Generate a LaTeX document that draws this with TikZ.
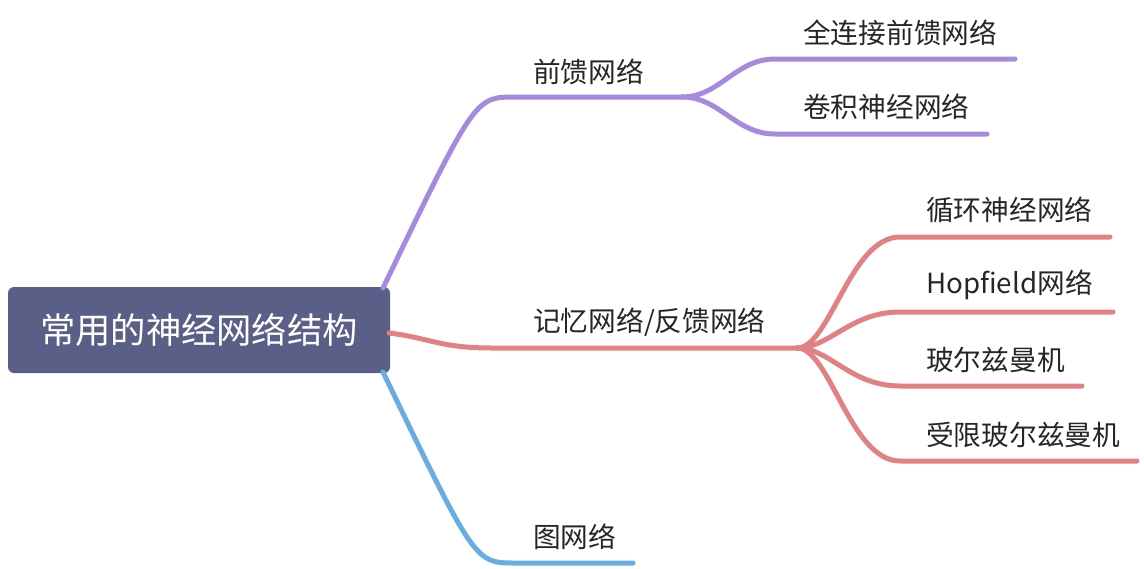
\documentclass[tikz,border=0pt]{standalone}
\usepackage{fontspec}
\setmainfont{Noto Sans CJK SC}
\definecolor{rootc}{HTML}{5A5F87}
\definecolor{purp}{HTML}{A58AE0}
\definecolor{redc}{HTML}{E28183}
\definecolor{bluec}{HTML}{68ADE2}
\definecolor{txt}{HTML}{262626}
\begin{document}
\begin{tikzpicture}[x=1pt,y=-1pt,
  lbl/.style={anchor=west,inner sep=0pt,text=txt,font=\fontsize{27.7}{30}\selectfont},
  conn/.style={line width=5pt,line cap=round}]
\useasboundingbox (0,0) rectangle (1144,568);
% root
\fill[rootc,rounded corners=6pt] (8,287) rectangle (390,373);
\node[inner sep=0pt,text=white,font=\fontsize{35.3}{38}\selectfont] (root) at (199,330) {常用的神经网络结构};
\coordinate (rA) at (383,288);
\coordinate (rB) at (389,333);
\coordinate (rC) at (383,372);
% level-1 end points
\coordinate (ffS) at (515,97);
\coordinate (ffF) at (682,97);
\coordinate (mmS) at (492,348);
\coordinate (mmF) at (797,348);
\coordinate (gS) at (515,563);
\coordinate (gE) at (633,563);
% level-2 end points
\coordinate (f1S) at (775,59);  \coordinate (f1E) at (1015,59);
\coordinate (f2S) at (775,134); \coordinate (f2E) at (987,134);
\coordinate (m1S) at (900,237); \coordinate (m1E) at (1110,237);
\coordinate (m2S) at (900,312); \coordinate (m2E) at (1113,312);
\coordinate (m3S) at (900,386); \coordinate (m3E) at (1082,386);
\coordinate (m4S) at (900,461); \coordinate (m4E) at (1137,461);
% labels
\node[lbl] (ff) at (533,72) {前馈网络};
\node[lbl] (mm) at (533,322) {记忆网络/反馈网络};
\node[lbl] (gn) at (533,537) {图网络};
\node[lbl] (f1) at (803,33) {全连接前馈网络};
\node[lbl] (f2) at (803,107) {卷积神经网络};
\node[lbl] (m1) at (926,210) {循环神经网络};
\node[lbl] (m2) at (926,285) {Hopfield网络};
\node[lbl] (m3) at (926,360) {玻尔兹曼机};
\node[lbl] (m4) at (926,435) {受限玻尔兹曼机};
% purple branch
\draw[conn,purp] (rA) .. controls (475,97) and (475,97) .. (ffS) -- (ffF);
\draw[conn,purp] (ffF) .. controls (720,97) and (735,59) .. (f1S) -- (f1E);
\draw[conn,purp] (ffF) .. controls (720,97) and (735,134) .. (f2S) -- (f2E);
% red branch
\draw[conn,redc] (rB) .. controls (430,338) and (440,348) .. (mmS) -- (mmF);
\draw[conn,redc] (mmF) .. controls (830,348) and (850,237) .. (m1S) -- (m1E);
\draw[conn,redc] (mmF) .. controls (830,348) and (850,312) .. (m2S) -- (m2E);
\draw[conn,redc] (mmF) .. controls (830,348) and (850,386) .. (m3S) -- (m3E);
\draw[conn,redc] (mmF) .. controls (830,348) and (850,461) .. (m4S) -- (m4E);
% blue branch
\draw[conn,bluec] (rC) .. controls (475,563) and (475,563) .. (gS) -- (gE);
\end{tikzpicture}
\end{document}
